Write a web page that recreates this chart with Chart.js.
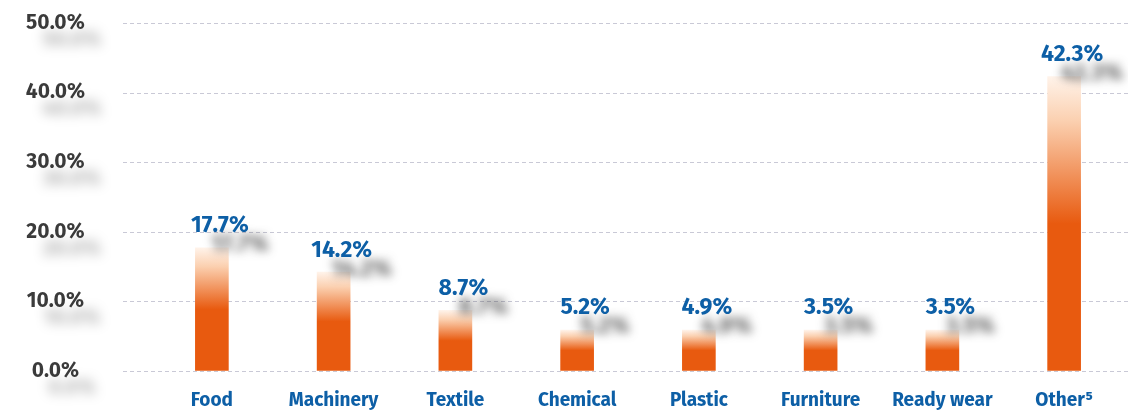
<!DOCTYPE html>
<html>
<head>
<meta charset="utf-8">
<script src="https://cdn.jsdelivr.net/npm/chart.js@4"></script>
<style>
  body { margin: 0; background: #fff; }
  #wrap { width: 1128px; height: 411px; position: relative; }
</style>
</head>
<body>
<div id="wrap"><canvas id="chartDisplay"></canvas></div>
<script>
// data
const categories = ['Food', 'Machinery', 'Textile', 'Chemical', 'Plastic', 'Furniture', 'Ready wear', 'Other\u2075'];
const shares = [17.7, 14.2, 8.7, 5.2, 4.9, 3.5, 3.5, 42.3];
const yTickValues = [0, 10, 20, 30, 40, 50];

const ORANGE = '#e85a0f';
const BLUE = '#0d5fa6';
const MIN_BAR = 41;
const FONT = "'Fira Sans', Roboto, 'Noto Sans', sans-serif";

// bar fill: pale at the top, solid orange in the lower half
function barGradient(ctx) {
  const chart = ctx.chart;
  if (!chart.chartArea || !chart.scales.y) return ORANGE;
  const y = chart.scales.y;
  const base = y.getPixelForValue(0);
  let top = y.getPixelForValue(ctx.raw);
  if (base - top < MIN_BAR) top = base - MIN_BAR;
  const g = chart.ctx.createLinearGradient(0, top, 0, base);
  g.addColorStop(0, '#fff3ea');
  g.addColorStop(0.15, '#fbd0b0');
  g.addColorStop(0.5, ORANGE);
  g.addColorStop(1, ORANGE);
  return g;
}

// dashed grid lines, running left of the bars like the original
const dashedGrid = {
  id: 'dashedGrid',
  beforeDatasetsDraw(chart) {
    const c = chart.ctx, y = chart.scales.y;
    c.save();
    c.strokeStyle = '#c9c9d6';
    c.lineWidth = 1;
    c.setLineDash([4, 3]);
    yTickValues.forEach(v => {
      const py = Math.round(y.getPixelForValue(v)) + 0.5;
      c.beginPath();
      c.moveTo(123, py);
      c.lineTo(chart.width, py);
      c.stroke();
    });
    // blurred ghosts under the y labels
    c.setLineDash([]);
    c.filter = 'blur(6px)';
    c.fillStyle = 'rgba(0,0,0,0.3)';
    c.font = 'bold 21px ' + FONT;
    c.textAlign = 'center';
    c.textBaseline = 'middle';
    yTickValues.forEach(v => {
      c.fillText(v.toFixed(1) + '%', 56 + 16, y.getPixelForValue(v) + 17);
    });
    c.restore();
  }
};

// value labels with a blurred grey copy
const valueLabels = {
  id: 'valueLabels',
  afterDatasetsDraw(chart) {
    const c = chart.ctx;
    const bars = chart.getDatasetMeta(0).data;
    c.save();
    c.font = 'bold 23px ' + FONT;
    c.textAlign = 'center';
    c.textBaseline = 'middle';
    c.filter = 'blur(5px)';
    c.fillStyle = 'rgba(50,50,50,0.75)';
    bars.forEach((bar, i) => {
      c.fillText(shares[i].toFixed(1) + '%', bar.x + 8 + 20, bar.y - 22 + 19);
    });
    c.filter = 'none';
    c.fillStyle = BLUE;
    bars.forEach((bar, i) => {
      c.fillText(shares[i].toFixed(1) + '%', bar.x + 8, bar.y - 22);
    });
    c.restore();
  }
};

const chart = new Chart(document.getElementById('chartDisplay'), {
  type: 'bar',
  data: {
    labels: categories,
    datasets: [{
      label: 'Share',
      data: shares,
      backgroundColor: barGradient,
      barThickness: 33,
      minBarLength: MIN_BAR
    }]
  },
  options: {
    responsive: true,
    maintainAspectRatio: false,
    animation: false,
    layout: { padding: { top: 23, right: 3, left: 0, bottom: 0 } },
    plugins: {
      legend: { display: false },
      tooltip: { enabled: false }
    },
    scales: {
      x: {
        afterFit(scale) { scale.height = 40; },
        grid: { display: false },
        border: { display: false },
        ticks: {
          color: BLUE,
          padding: 10,
          maxRotation: 0,
          minRotation: 0,
          autoSkip: false,
          font: { family: FONT, size: 19, weight: 'bold' }
        }
      },
      y: {
        min: 0,
        max: 50,
        afterFit(scale) { scale.width = 151; },
        // invisible tick marks only push the labels left
        grid: { drawOnChartArea: false, tickLength: 66, tickColor: 'rgba(0,0,0,0)' },
        border: { display: false },
        ticks: {
          stepSize: 10,
          padding: 0,
          crossAlign: 'center',
          color: '#3b3b3b',
          font: { family: FONT, size: 21, weight: 'bold' },
          callback: v => v.toFixed(1) + '%'
        }
      }
    }
  },
  plugins: [dashedGrid, valueLabels]
});
</script>
</body>
</html>
